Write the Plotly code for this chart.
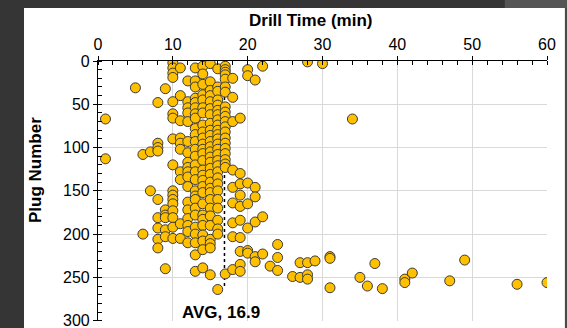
import plotly.graph_objects as go

# Drill time (min) and the plug numbers drilled in that time
drill_times = [1, 5, 6, 7, 8, 9, 10, 11, 12, 13, 14, 15, 16, 17, 18, 19, 20, 21, 22, 23,
               24, 26, 27, 28, 29, 30, 31, 34, 35, 36, 37, 38, 41, 42, 47, 49, 56, 60]
plugs_per_time = [
    [67, 113],
    [31],
    [108, 200],
    [105, 150],
    [48, 95, 100, 104, 160, 181, 193, 206, 216],
    [32, 172, 178, 181, 195, 203, 240],
    [2, 8, 14, 19, 47, 61, 66, 90, 120, 150, 155, 160, 165, 173, 181, 192, 205],
    [8, 40, 69, 89, 95, 102, 128, 137, 188, 205],
    [23, 47, 54, 60, 70, 93, 106, 117, 123, 128, 134, 145, 163, 172, 182, 190, 197, 210],
    [8, 23, 30, 43, 48, 54, 61, 66, 78, 85, 93, 102, 110, 120, 128, 137, 150, 156, 160,
     170, 178, 192, 200, 210, 224, 243],
    [6, 15, 27, 39, 45, 54, 60, 74, 82, 89, 96, 102, 107, 115, 126, 132, 138, 145, 152,
     165, 178, 183, 190, 201, 208, 218, 239],
    [3, 24, 34, 40, 47, 55, 62, 72, 80, 86, 93, 99, 105, 111, 117, 124, 131, 140, 147,
     152, 160, 170, 179, 190, 206, 211, 216, 247],
    [9, 30, 35, 45, 51, 57, 62, 68, 74, 80, 85, 90, 96, 102, 108, 115, 121, 128, 135,
     142, 150, 160, 170, 184, 194, 200, 264],
    [6, 10, 13, 16, 21, 30, 36, 53, 59, 64, 70, 76, 82, 89, 95, 101, 107, 114, 119, 123, 246],
    [20, 42, 70, 126, 146, 164, 187, 203, 241],
    [66, 130, 142, 155, 168, 184, 204, 220, 235, 243],
    [10, 17, 141, 165, 193, 219, 222],
    [22, 146, 157, 186, 226, 232],
    [6, 180, 223],
    [237],
    [212, 227, 242],
    [249],
    [233, 250],
    [1, 233, 247, 252],
    [231],
    [3],
    [226, 228, 262],
    [67],
    [250],
    [260],
    [234],
    [263],
    [252, 256],
    [245],
    [254],
    [230],
    [258],
    [256],
]

y_max = 300
avg_time = 16.9
avg_plug_range = [0, 262]
avg_label = "AVG, 16.9"

x_vals, y_vals = [], []
for t, plugs in zip(drill_times, plugs_per_time):
    for p in plugs:
        x_vals.append(t)
        y_vals.append(p)

fig = go.Figure()

fig.add_trace(go.Scatter(
    x=[avg_time, avg_time], y=avg_plug_range, mode="lines",
    line=dict(color="#000000", width=1.5, dash="dot"),
    hoverinfo="skip", showlegend=False))

fig.add_trace(go.Scatter(
    x=x_vals, y=y_vals, mode="markers",
    marker=dict(size=10, color="#FFC000", line=dict(color="#3a3a3a", width=1)),
    showlegend=False))

font_fam = "Liberation Sans, Arial, sans-serif"

fig.update_layout(
    width=567, height=328,
    margin=dict(l=98, r=20, t=61, b=7, autoexpand=False),
    paper_bgcolor="#353535",
    plot_bgcolor="#ffffff",
    font=dict(family=font_fam, color="#000000"),
    showlegend=False,
    shapes=[
        dict(type="rect", xref="paper", yref="paper", layer="below",
             x0=-0.1648, x1=1.040, y0=-0.1, y1=1.2038,
             fillcolor="#ffffff", line=dict(width=0)),
        dict(type="rect", xref="paper", yref="paper", layer="below",
             x0=0.906, x1=1.05, y0=1.2038, y1=1.25,
             fillcolor="#555555", line=dict(width=0)),
        dict(type="rect", xref="paper", yref="paper", layer="below",
             x0=1.040, x1=1.05, y0=-0.1, y1=1.2038,
             fillcolor="#4a4a4a", line=dict(width=0)),
        dict(type="line", xref="paper", yref="y", x0=-0.009, x1=0, y0=y_max, y1=y_max,
             line=dict(color="#000", width=1.2)),
    ],
    annotations=[
        dict(text="<b>Drill Time (min)</b>", xref="paper", yref="paper",
             x=0.473, y=1.154, xanchor="center", yanchor="middle",
             showarrow=False, font=dict(size=17, family=font_fam, color="#000")),
        dict(text="<b>Plug Number</b>", xref="paper", yref="paper",
             x=-0.138, y=0.581, xanchor="center", yanchor="middle", textangle=-90,
             showarrow=False, font=dict(size=17, family=font_fam, color="#000")),
        dict(text="<b>" + avg_label + "</b>", x=16.4, y=291, xref="x", yref="y",
             xanchor="center", yanchor="middle", showarrow=False,
             font=dict(size=17, family=font_fam, color="#000")),
        dict(text=str(y_max), x=-0.014, y=y_max, xref="paper", yref="y",
             xanchor="right", yanchor="middle", showarrow=False,
             font=dict(size=16, family=font_fam, color="#000")),
    ],
)

fig.update_xaxes(
    range=[0, 60], side="top", dtick=10, tick0=0, automargin=False,
    showline=True, linecolor="#000000", linewidth=1.2,
    ticks="outside", ticklen=4, tickcolor="#000", tickwidth=1.2,
    tickfont=dict(size=16, family=font_fam, color="#000"),
    showgrid=True, gridcolor="#d9d9d9", gridwidth=1,
    zeroline=False,
    minor=dict(dtick=2, ticks="inside", ticklen=4, tickcolor="#000", showgrid=False),
)
fig.update_yaxes(
    range=[300.4, 0], dtick=50, tick0=0, automargin=False,
    showline=True, linecolor="#000000", linewidth=1.2,
    ticks="outside", ticklen=4, tickcolor="#000", tickwidth=1.2,
    tickfont=dict(size=16, family=font_fam, color="#000"),
    showgrid=True, gridcolor="#d9d9d9", gridwidth=1,
    zeroline=False,
    minor=dict(dtick=10, ticks="inside", ticklen=4, tickcolor="#000", showgrid=False),
)

fig.write_html(
    "out.html",
    config={"displayModeBar": False},
    post_script="document.body.style.margin='0';document.body.style.overflow='hidden';",
)
